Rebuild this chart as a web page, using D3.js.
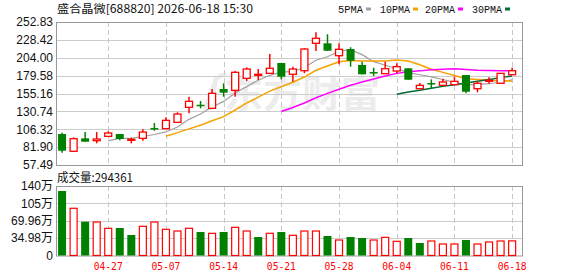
<!DOCTYPE html>
<html><head><meta charset="utf-8">
<script src="https://cdn.jsdelivr.net/npm/d3@7/dist/d3.min.js"></script>
<style>body{margin:0;background:#fff}svg{display:block}</style>
</head><body>
<svg id="c" width="578" height="276"></svg>
<script>
const dates = ["04-21","04-22","04-23","04-24","04-27","04-28","04-29","04-30","05-06","05-07",
  "05-08","05-11","05-12","05-13","05-14","05-15","05-18","05-19","05-20","05-21",
  "05-22","05-25","05-26","05-27","05-28","05-29","06-01","06-02","06-03","06-04",
  "06-05","06-08","06-09","06-10","06-11","06-12","06-15","06-16","06-17","06-18"];
const openP  = [99.8,76.2,93.9,90.7,96.6,99.8,91.2,93.9,108.0,107.1,115.8,136.3,139.8,134.9,161.3,159.5,175.9,180.0,182.7,196.8,181.4,186.3,223.7,223.7,206.8,215.9,194.1,184.5,182.2,185.9,189.6,161.7,169.5,166.3,167.2,180.4,161.7,171.8,169.1,180.8];
const highP  = [101.6,95.3,102.5,102.5,103.5,99.8,94.8,106.2,114.9,122.6,129.5,150.8,144.9,161.3,169.1,185.9,190.9,188.6,209.1,196.8,191.8,217.3,238.8,236.1,223.7,218.3,198.6,190.4,198.6,196.4,189.6,169.5,174.5,175.4,178.1,180.4,171.8,177.2,182.7,190.4];
const lowP   = [74.3,76.2,89.3,87.1,96.6,91.2,87.1,90.7,104.3,107.1,115.8,128.1,134.9,134.9,150.8,150.8,172.2,173.6,182.7,174.5,171.3,182.8,213.2,213.6,195.0,191.8,181.4,179.0,182.2,182.7,174.0,161.7,162.2,166.3,167.2,155.4,156.8,168.5,169.1,180.8];
const closeP = [77.0,93.4,89.3,93.0,101.2,93.0,92.6,102.5,106.6,118.5,127.1,144.5,138.5,155.4,156.3,184.1,188.6,181.4,189.6,178.1,188.6,215.9,230.6,213.6,215.5,200.0,181.4,182.7,189.0,191.8,174.0,166.3,168.5,170.9,171.8,157.6,169.1,173.2,182.7,186.3];
// volume in 万 (10k lots)
const volume = [129.9,95.1,68.1,67.5,54.8,55.4,41.3,58.8,67.5,52.8,49.3,54.8,47.3,44.7,47.3,56.8,49.3,37.3,44.7,47.3,40.7,49.3,49.3,39.3,31.2,37.3,35.2,31.2,36.6,28.6,35.2,25.2,29.2,23.2,23.2,31.2,23.2,27.2,29.2,29.4361];
const volUp = [0,1,0,1,1,0,0,1,1,1,1,1,0,1,0,1,1,0,1,0,1,1,1,0,1,0,0,1,1,1,0,0,1,1,1,0,1,1,1,1];
const ma5 = [null,null,null,null,90.78,93.98,93.82,96.46,99.18,102.64,109.46,119.84,127.04,136.8,144.36,155.76,164.58,173.16,180.0,184.36,185.26,190.72,200.56,205.36,212.84,215.12,208.22,198.64,193.72,188.98,183.78,180.76,177.92,174.3,170.3,167.02,167.58,168.52,170.88,173.78];
const ma10 = [null,null,null,null,null,null,null,null,null,96.71,101.72,106.83,111.75,117.99,123.5,132.61,142.21,150.1,158.4,164.36,170.51,177.65,186.86,192.68,198.6,200.19,199.47,199.6,199.54,200.91,199.45,194.49,188.28,184.01,179.64,175.4,174.17,173.22,172.59,172.04];
const ma20 = [null,null,null,null,null,null,null,null,null,null,null,null,null,null,null,null,null,null,null,130.54,136.12,142.24,149.31,155.34,161.05,166.4,170.84,174.85,178.97,182.64,184.98,186.07,187.57,188.35,189.12,187.8,186.82,186.41,186.07,186.48];
const ma30 = [null,null,null,null,null,null,null,null,null,null,null,null,null,null,null,null,null,null,null,null,null,null,null,null,null,null,null,null,null,153.99,157.23,159.66,162.3,164.89,167.25,169.4,171.95,174.31,176.84,179.1];
const priceTicks = [57.49,81.90,106.32,130.74,155.16,179.58,204.00,228.42,252.83];
const volTicks = [0,34.98,69.96,105,140];
const volTickLabels = ["0","34.98万","69.96万","105万","140万"];
const dateTicks = ["04-27","05-07","05-14","05-21","05-28","06-04","06-11","06-18"];
const maNames = ["5PMA","10PMA","20PMA","30PMA"];
const maColors = ["#a0a0a0","#f5a300","#ff00ff","#006b33"];
const titleText = "盛合晶微[688820] 2026-06-18 15:30";
const volText = "成交量:294361";

const RED = "#ff0000", GREEN = "#008000";
const svg = d3.select("#c");
const L = 56, R = 522, PT = 22, PB = 165, VT = 186, VB = 255.5;
const x = d3.scaleBand().domain(dates).range([56.3, 56.3 + 40 * 11.54]);
const cx = d => x(d) + x.bandwidth() / 2;
const y = d3.scaleLinear().domain([57.49, 252.83]).range([PB, PT]);
const yv = d3.scaleLinear().domain([0, 140]).range([VB, VT]);

// watermark
const wm = svg.append("g").attr("opacity", 1);
wm.append("text").attr("x", 224).attr("y", 108).attr("font-family", "Noto Sans CJK SC")
  .attr("font-weight", "bold").attr("font-size", 37).attr("fill", "#ececec")
  .attr("textLength", 156).attr("lengthAdjust", "spacingAndGlyphs").text("东方财富");
wm.append("path").attr("d", "M203,110 L214,78 Q222,70 228,74 L218,80 L212,110 Z").attr("fill", "#ececec");

// grids
svg.append("g").selectAll("line").data(priceTicks.slice(1, -1)).join("line")
  .attr("x1", L).attr("x2", R).attr("y1", d => Math.round(y(d)) + 0.5).attr("y2", d => Math.round(y(d)) + 0.5)
  .attr("stroke", "#cccccc");
svg.append("g").selectAll("line").data(volTicks.slice(1, -1)).join("line")
  .attr("x1", L).attr("x2", R).attr("y1", d => Math.round(yv(d)) + 0.5).attr("y2", d => Math.round(yv(d)) + 0.5)
  .attr("stroke", "#cccccc");
[[PT, PB], [VT, VB]].forEach(([t, b]) => {
  svg.append("g").selectAll("line").data(dateTicks).join("line")
    .attr("x1", d => Math.round(cx(d)) + 0.5).attr("x2", d => Math.round(cx(d)) + 0.5)
    .attr("y1", t).attr("y2", b).attr("stroke", "#c8c8c8").attr("stroke-dasharray", "5,3");
});

// frames
[[PT, PB], [VT, VB]].forEach(([t, b]) => {
  svg.append("rect").attr("x", L + 0.5).attr("y", t + 0.5).attr("width", R - L).attr("height", b - t)
    .attr("fill", "none").attr("stroke", "#999");
});

// MA lines
[ma5, ma10, ma20, ma30].forEach((arr, k) => {
  const line = d3.line().defined(d => d != null).x((d, i) => cx(dates[i])).y(d => y(d));
  svg.append("path").attr("d", line(arr)).attr("fill", "none")
    .attr("stroke", maColors[k]).attr("stroke-width", k === 0 ? 1.2 : 1.5);
});

// candles
const idx = d3.range(dates.length);
const cg = svg.append("g");
idx.forEach(i => {
  const up = closeP[i] >= openP[i];
  const col = up ? RED : GREEN;
  const c = cx(dates[i]);
  const top = y(Math.max(openP[i], closeP[i])), bot = y(Math.min(openP[i], closeP[i]));
  cg.append("line").attr("x1", c).attr("x2", c).attr("y1", y(highP[i])).attr("y2", y(lowP[i]))
    .attr("stroke", col).attr("stroke-width", 1.5);
  const h = Math.max(bot - top, 1);
  if (up) {
    cg.append("rect").attr("x", c - 3.5).attr("y", top).attr("width", 7).attr("height", h)
      .attr("fill", "#fff").attr("stroke", col).attr("stroke-width", 1.3);
  } else {
    cg.append("rect").attr("x", c - 4).attr("y", top).attr("width", 8).attr("height", Math.max(h, 1.5))
      .attr("fill", col);
  }
});

// volume bars
const vg = svg.append("g");
idx.forEach(i => {
  const c = cx(dates[i]);
  const t = yv(volume[i]);
  if (volUp[i]) {
    vg.append("rect").attr("x", c - 3.5).attr("y", t).attr("width", 7).attr("height", VB - t)
      .attr("fill", "#fff").attr("stroke", RED).attr("stroke-width", 1.2);
  } else {
    vg.append("rect").attr("x", c - 4).attr("y", t).attr("width", 8).attr("height", VB - t).attr("fill", GREEN);
  }
});

// axis labels
svg.append("g").selectAll("text").data(priceTicks).join("text")
  .attr("x", 53).attr("y", d => y(d)).attr("dy", "0.36em").attr("text-anchor", "end")
  .attr("font-family", "Liberation Sans, Arial").attr("font-size", 12).attr("fill", "#111")
  .text(d => d.toFixed(2));
svg.append("g").selectAll("text").data(volTicks).join("text")
  .attr("x", 53).attr("y", d => yv(d)).attr("dy", "0.36em").attr("text-anchor", "end")
  .attr("font-family", "Liberation Sans, Noto Sans CJK SC").attr("font-size", 12).attr("fill", "#111")
  .text((d, i) => volTickLabels[i]);
svg.append("g").selectAll("text").data(dateTicks).join("text")
  .attr("x", d => cx(d)).attr("y", 270).attr("text-anchor", "middle")
  .attr("font-family", "DejaVu Sans Mono").attr("font-size", 11).attr("fill", RED)
  .attr("textLength", 29).attr("lengthAdjust", "spacingAndGlyphs").text(d => d);

// title and volume caption
svg.append("text").attr("x", 57).attr("y", 13).attr("font-family", "Noto Sans CJK SC").attr("font-size", 11.5)
  .attr("fill", "#111").attr("textLength", 196).attr("lengthAdjust", "spacingAndGlyphs").text(titleText);
svg.append("text").attr("x", 57).attr("y", 182).attr("font-family", "Noto Sans CJK SC").attr("font-size", 12)
  .attr("fill", "#111").attr("textLength", 76).attr("lengthAdjust", "spacingAndGlyphs").text(volText);

// legend
const legX = [338, 380, 425, 472], legW = [25, 30, 30, 30];
maNames.forEach((n, k) => {
  svg.append("text").attr("x", legX[k]).attr("y", 13).attr("font-family", "Liberation Mono").attr("font-size", 11.5)
    .attr("fill", "#111").attr("textLength", legW[k]).attr("lengthAdjust", "spacingAndGlyphs").text(n);
  svg.append("rect").attr("x", legX[k] + legW[k] + 3).attr("y", 7.5).attr("width", 5).attr("height", 3).attr("fill", maColors[k]);
});
</script>
</body></html>
